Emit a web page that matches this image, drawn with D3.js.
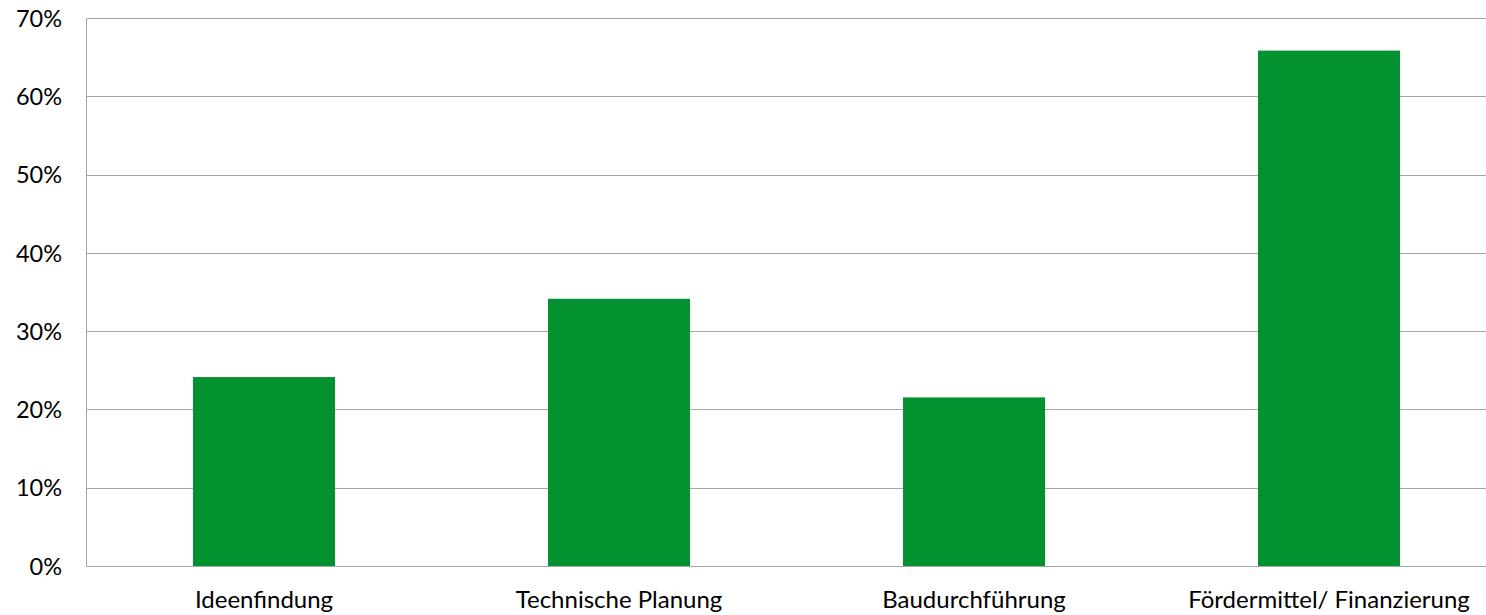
<!DOCTYPE html>
<html><head><meta charset="utf-8">
<script src="https://cdn.jsdelivr.net/npm/d3@7"></script>
<style>body{margin:0;background:#fff}svg{display:block}text{font-family:Lato,"Noto Sans",sans-serif;fill:#000}</style>
</head><body>
<svg id="c" width="1486" height="615"></svg>
<script>
const categories = ["Ideenfindung","Technische Planung","Baudurchführung","Fördermittel/ Finanzierung"];
const values = [0.242, 0.342, 0.216, 0.659];
const yTicks = [0,0.1,0.2,0.3,0.4,0.5,0.6,0.7];

(function(){
const svg = d3.select("#c");
const mLeft = 86.5, mRight = 1506.5, mTop = 18.5, mBottom = 566.5;
const x = d3.scaleBand().domain(categories).range([mLeft, mRight]).paddingInner(0.6).paddingOuter(0.3);
const y = d3.scaleLinear().domain([0,0.7]).range([mBottom, mTop]);

svg.append("g").selectAll("line").data(yTicks.filter(d=>d>0)).join("line")
  .attr("x1", mLeft).attr("x2", 1486).attr("y1", d=>Math.floor(y(d))+0.5).attr("y2", d=>Math.floor(y(d))+0.5)
  .attr("stroke","#a6a6a6").attr("stroke-width",1);

svg.append("g").selectAll("rect").data(values).join("rect")
  .attr("x",(d,i)=>x(categories[i])).attr("width",x.bandwidth())
  .attr("y",d=>y(d)).attr("height",d=>y(0)-y(d)).attr("fill","#03922f");

svg.append("line").attr("x1",mLeft).attr("x2",mLeft).attr("y1",mTop).attr("y2",mBottom).attr("stroke","#a6a6a6");
svg.append("line").attr("x1",mLeft).attr("x2",1486).attr("y1",mBottom).attr("y2",mBottom).attr("stroke","#a6a6a6");

svg.append("g").selectAll("text").data(yTicks).join("text")
  .attr("x",62).attr("y",d=>y(d)).attr("dy","0.35em").attr("text-anchor","end")
  .attr("font-size",23.5).text(d=>d3.format(".0%")(d));

svg.append("g").selectAll("text").data(categories).join("text")
  .attr("x",d=>x(d)+x.bandwidth()/2).attr("y",608).attr("text-anchor","middle")
  .attr("font-size",24).text(d=>d);
})();
</script>
</body></html>
